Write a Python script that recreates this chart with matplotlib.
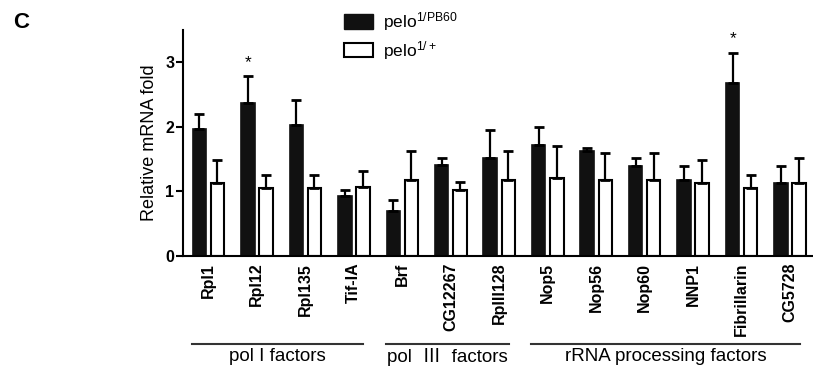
import numpy as np
import matplotlib
matplotlib.use("Agg")
import matplotlib.pyplot as plt
from matplotlib.patches import Patch
from matplotlib.transforms import blended_transform_factory

plt.rcParams['font.family'] = ['Liberation Sans', 'Noto Sans CJK SC', 'DejaVu Sans']
plt.rcParams['mathtext.fontset'] = 'custom'
plt.rcParams['mathtext.rm'] = 'Liberation Sans'
plt.rcParams['mathtext.it'] = 'Liberation Sans'

# Data
genes = ['Rpl1', 'Rpl12', 'Rpl135', 'Tif-IA', 'Brf', 'CG12267', 'RpIII128',
         'Nop5', 'Nop56', 'Nop60', 'NNP1', 'Fibrillarin', 'CG5728']
mutant = [1.96, 2.37, 2.02, 0.93, 0.69, 1.40, 1.51, 1.72, 1.62, 1.39, 1.17, 2.68, 1.12]
mutant_err = [0.23, 0.41, 0.40, 0.09, 0.18, 0.11, 0.44, 0.27, 0.05, 0.12, 0.22, 0.46, 0.27]
control = [1.13, 1.05, 1.05, 1.06, 1.18, 1.02, 1.18, 1.20, 1.17, 1.18, 1.12, 1.05, 1.13]
control_err = [0.36, 0.20, 0.20, 0.25, 0.44, 0.12, 0.45, 0.50, 0.43, 0.41, 0.37, 0.20, 0.38]
significant = ['Rpl12', 'Fibrillarin']

# groups: (label, first gene index, last gene index)
groups = [('pol I factors', 0, 3), ('pol  Ⅲ  factors', 4, 6), ('rRNA processing factors', 7, 12)]

fig = plt.figure(figsize=(8.13, 3.68), dpi=100)
ax = fig.add_axes([0.2255, 0.3052, 0.7733, 0.6133])

x = np.arange(len(genes))
w = 0.278
off = 0.186
err_kw = dict(ecolor='black', elinewidth=1.6, capsize=3.5, capthick=2.0)

ax.bar(x - off, mutant, w, color='#111111', edgecolor='#111111', linewidth=1.2,
       yerr=[np.zeros(len(x)), mutant_err], error_kw=err_kw)
ax.bar(x + off, control, w, color='white', edgecolor='black', linewidth=1.5,
       yerr=[np.zeros(len(x)), control_err], error_kw=err_kw)

# significance stars
for g in significant:
    i = genes.index(g)
    top = mutant[i] + mutant_err[i]
    ax.text(i - off, top + 0.22, '*', ha='center', va='center', fontsize=12.5)

ax.set_xlim(-0.515, 12.45)
ax.set_ylim(0, 3.5)
ax.set_yticks([0, 1, 2, 3])
ax.set_xticks(x)
ax.set_xticklabels(genes, rotation=90, fontsize=11.5, fontweight='bold')
ax.tick_params(axis='x', length=0, pad=5)
ax.tick_params(axis='y', length=5, width=1.5, pad=1.5, labelsize=11.5)
for lab in ax.get_yticklabels():
    lab.set_fontweight('bold')
ax.set_ylabel('Relative mRNA fold', fontsize=13, labelpad=5)

for s in ['top', 'right']:
    ax.spines[s].set_visible(False)
for s in ['left', 'bottom']:
    ax.spines[s].set_linewidth(1.5)

# group brackets under the tick labels
trans = blended_transform_factory(ax.transData, fig.transFigure)
for label, a, b in groups:
    ax.plot([a - 0.34, b + 0.2], [0.0652, 0.0652], color='#333333', lw=1.5,
            transform=trans, clip_on=False)
    ax.text((a - 0.34 + b + 0.2) / 2, 0.030, label, transform=trans,
            ha='center', va='center', fontsize=13.5)

handles = [Patch(facecolor='#111111', edgecolor='#111111'),
           Patch(facecolor='white', edgecolor='black', linewidth=1.5)]
ax.legend(handles, [r'pelo$^{\mathrm{1/PB60}}$', r'pelo$^{\mathrm{1/+}}$'],
          loc='upper left', bbox_to_anchor=(344 / 813, 1 - 10 / 368),
          bbox_transform=fig.transFigure, frameon=False, fontsize=12.5,
          handlelength=1.65, handleheight=0.9, handletextpad=0.6,
          labelspacing=0.35, borderpad=0, borderaxespad=0)

fig.text(21 / 813, 1 - 22 / 368, 'C', fontsize=16, fontweight='bold', ha='center', va='center')

fig.savefig('out.png', dpi=100)
